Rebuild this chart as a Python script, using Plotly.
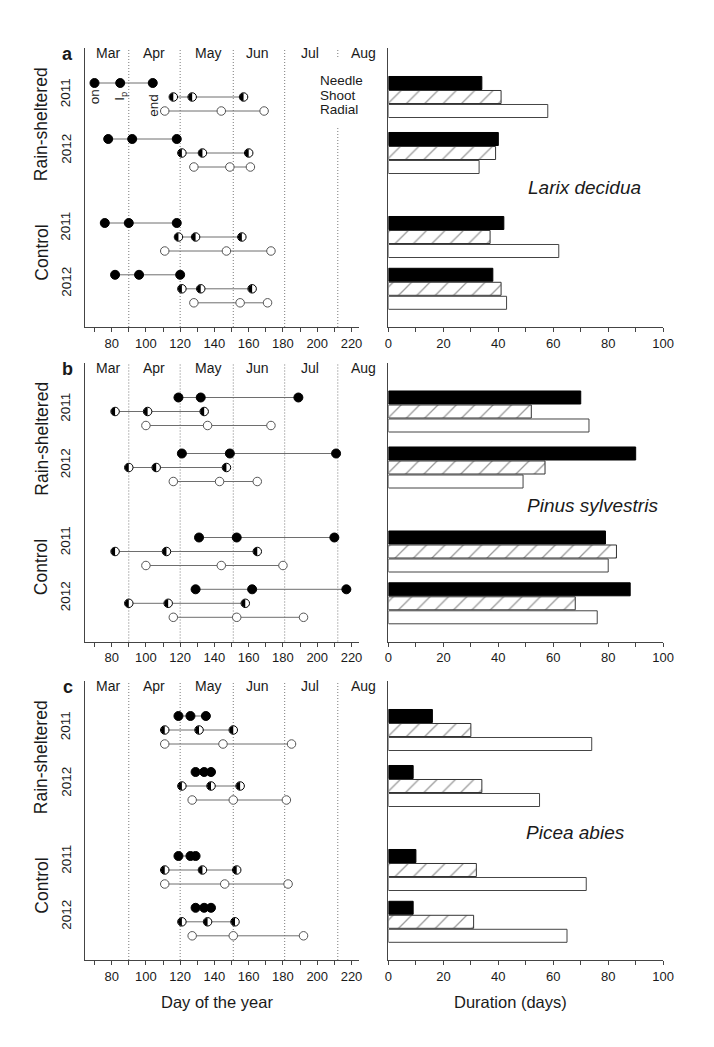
import math
import plotly.graph_objects as go

W, H = 714, 1047

# ---------------- data ----------------
treatments = ["Rain-sheltered", "Control"]
years = ["2011", "2012", "2011", "2012"]
months = ["Mar", "Apr", "May", "Jun", "Jul", "Aug"]
month_ends = [90, 120, 151, 181, 212]
species = ["Larix decidua", "Pinus sylvestris", "Picea abies"]
panel_letters = ["a", "b", "c"]
tissues = ["Needle", "Shoot", "Radial"]
day_ticks = [80, 100, 120, 140, 160, 180, 200, 220]
dur_ticks = [0, 20, 40, 60, 80, 100]

# onset, inflection point (Ip), end -- groups: RS2011, RS2012, C2011, C2012
larix_needle = [[70, 85, 104], [78, 92, 118], [76, 90, 118], [82, 96, 120]]
larix_shoot = [[116, 127, 157], [121, 133, 160], [119, 129, 156], [121, 132, 162]]
larix_radial = [[111, 144, 169], [128, 149, 161], [111, 147, 173], [128, 155, 171]]
larix_dur_needle = [34, 40, 42, 38]
larix_dur_shoot = [41, 39, 37, 41]
larix_dur_radial = [58, 33, 62, 43]

pinus_needle = [[119, 132, 189], [121, 149, 211], [131, 153, 210], [129, 162, 217]]
pinus_shoot = [[82, 101, 134], [90, 106, 147], [82, 112, 165], [90, 113, 158]]
pinus_radial = [[100, 136, 173], [116, 143, 165], [100, 144, 180], [116, 153, 192]]
pinus_dur_needle = [70, 90, 79, 88]
pinus_dur_shoot = [52, 57, 83, 68]
pinus_dur_radial = [73, 49, 80, 76]

picea_needle = [[119, 126, 135], [129, 134, 138], [119, 126, 129], [129, 134, 138]]
picea_shoot = [[111, 131, 151], [121, 138, 155], [111, 133, 153], [121, 136, 152]]
picea_radial = [[111, 145, 185], [127, 151, 182], [111, 146, 183], [127, 151, 192]]
picea_dur_needle = [16, 9, 10, 9]
picea_dur_shoot = [30, 34, 32, 31]
picea_dur_radial = [74, 55, 72, 65]

phen = [
    (larix_needle, larix_shoot, larix_radial),
    (pinus_needle, pinus_shoot, pinus_radial),
    (picea_needle, picea_shoot, picea_radial),
]
durs = [
    (larix_dur_needle, larix_dur_shoot, larix_dur_radial),
    (pinus_dur_needle, pinus_dur_shoot, pinus_dur_radial),
    (picea_dur_needle, picea_dur_shoot, picea_dur_radial),
]

# ---------------- layout constants ----------------
FONT = "Liberation Sans, Arial, sans-serif"
TXT = "#1a1a1a"
AX = "#444444"
panel_tops = [48, 362.5, 681]
panel_h = 279
UNIT = 14.0  # px per y unit
group_base = [2.5, 6.5, 12.5, 16.2]
L_X0, L_X1 = 83, 363
R_X0, R_X1 = 392.7, 673.3
DAY_RANGE = [64.6, 224.6]
PX_PER_DAY = (L_X1 - L_X0) / (DAY_RANGE[1] - DAY_RANGE[0])
month_label_days = [78, 105, 136, 165, 196, 227]


def px(x):
    return x / W


def py(y):
    return 1 - y / H


def day_to_paper(d):
    return px(L_X0 + (d - DAY_RANGE[0]) * PX_PER_DAY)


def ann(text, x, y, size, xref="paper", xanchor="center", angle=0, **kw):
    d = dict(text=text, x=x, y=py(y), xref=xref, yref="paper", showarrow=False,
             xanchor=xanchor, yanchor="middle", textangle=angle,
             font=dict(family=FONT, size=size, color=TXT))
    d.update(kw)
    return d


fig = go.Figure()
annotations = []
shapes = []
layout_axes = {}

for p in range(3):
    top = panel_tops[p]
    bot = top + panel_h
    lx = 2 * p + 1
    rx = 2 * p + 2
    xl = "x" if lx == 1 else f"x{lx}"
    yl = "y" if lx == 1 else f"y{lx}"
    xr, yr = f"x{rx}", f"y{rx}"
    ydom = [py(bot), py(top)]
    yrange = [panel_h / UNIT, 0]

    common_x = dict(showline=True, linecolor=AX, linewidth=1.3, ticks="outside",
                    ticklen=4, tickwidth=1, tickcolor=AX, showgrid=False, zeroline=False,
                    tickfont=dict(family=FONT, size=13, color=TXT))
    layout_axes[f"xaxis{'' if lx == 1 else lx}"] = dict(
        common_x, domain=[px(L_X0), px(L_X1)], range=DAY_RANGE, anchor=yl,
        tickvals=day_ticks, minor=dict(dtick=10, tick0=0, ticks="outside", ticklen=4, tickcolor=AX))
    layout_axes[f"yaxis{'' if lx == 1 else lx}"] = dict(
        domain=ydom, range=yrange, anchor=xl, showline=True, linecolor=AX, linewidth=1.3,
        showticklabels=False, ticks="", showgrid=False, zeroline=False)
    layout_axes[f"xaxis{rx}"] = dict(
        common_x, domain=[px(R_X0), px(R_X1)], range=[0, 100], anchor=yr,
        tickvals=dur_ticks, minor=dict(dtick=10, tick0=0, ticks="outside", ticklen=4, tickcolor=AX))
    layout_axes[f"yaxis{rx}"] = dict(
        domain=ydom, range=yrange, anchor=xr, showline=True, linecolor=AX, linewidth=1.3,
        showticklabels=False, ticks="", showgrid=False, zeroline=False)

    # month boundaries (dotted)
    for d in month_ends:
        shapes.append(dict(type="line", xref=xl, yref=f"{yl} domain", x0=d, x1=d, y0=0, y1=1,
                           line=dict(color="#7a7a7a", width=1, dash="1px,2px"), layer="below"))

    # phenology lines + markers
    for t in range(3):
        xs, ys = [], []
        for g in range(4):
            row = group_base[g] + t
            xs += phen[p][t][g] + [None]
            ys += [row] * 3 + [None]
        if t == 0:
            mk = dict(size=9, color="black", line=dict(color="black", width=1))
        elif t == 1:
            mk = dict(size=8.5, color="white", line=dict(color="black", width=1))
        else:
            mk = dict(size=8.5, color="white", line=dict(color="#555555", width=1))
        fig.add_trace(go.Scatter(x=xs, y=ys, xaxis=xl, yaxis=yl, mode="lines+markers",
                                 line=dict(color="#6e6e6e", width=1), marker=mk,
                                 showlegend=False, hoverinfo="skip"))
        if t == 1:
            # left half filled for shoot markers
            hx, hy = [], []
            r = 4.1
            for g in range(4):
                row = group_base[g] + t
                for d in phen[p][t][g]:
                    for k in range(17):
                        a = math.pi / 2 + math.pi * k / 16
                        hx.append(d + r * math.cos(a) / PX_PER_DAY)
                        hy.append(row - r * math.sin(a) / UNIT)
                    hx.append(None)
                    hy.append(None)
            fig.add_trace(go.Scatter(x=hx, y=hy, xaxis=xl, yaxis=yl, mode="lines",
                                     fill="toself", fillcolor="black", line=dict(width=0, color="black"),
                                     showlegend=False, hoverinfo="skip"))

    # duration bars
    bar_styles = [
        dict(color="black", line=dict(color="black", width=1)),
        dict(color="white", line=dict(color="#333333", width=1),
             pattern=dict(shape="/", fgcolor="#333333", bgcolor="white", size=13, solidity=0.1)),
        dict(color="white", line=dict(color="#444444", width=1)),
    ]
    for t in range(3):
        rows = [group_base[g] + t for g in range(4)]
        fig.add_trace(go.Bar(x=durs[p][t], y=rows, orientation="h", width=0.93, base=0,
                             xaxis=xr, yaxis=yr, marker=bar_styles[t],
                             showlegend=False, hoverinfo="skip"))

    # month labels
    for m, dm in zip(months, month_label_days):
        annotations.append(ann(m, day_to_paper(dm), top + 5, 14))
    # panel letter
    annotations.append(ann(f"<b>{panel_letters[p]}</b>", px(65), top + 6, 18))
    # treatment labels
    for tr, off in zip(treatments, [76, 204.5]):
        annotations.append(ann(tr, px(38), top + off, 17.5, angle=-90))
    for yrlab, off in zip(years, [44.5, 101, 178, 234]):
        annotations.append(ann(yrlab, px(63), top + off, 13.5, angle=-90))
    # species
    sp_pos = [(71.4, 140), (74.4, 142.5), (68, 151)]
    annotations.append(ann(f"<i>{species[p]}</i>", sp_pos[p][0], top + sp_pos[p][1], 19, xref=xr))

# white backing behind legend text (hides dotted line there)
shapes.append(dict(type="rect", xref="paper", yref="paper", x0=px(318), x1=px(372),
                   y0=py(127), y1=py(58), fillcolor="white", line=dict(width=0), layer="below"))
for name, yy in zip(tissues, [80, 95, 109.5]):
    annotations.append(ann(name, px(321), yy, 13.5, xanchor="left"))

# on / Ip / end labels under RS 2011 needle points (panel a)
for lab, d, off in zip(["on", "I<sub>p</sub>", "end"], larix_needle[0], [48.7, 48.5, 57]):
    annotations.append(ann(lab, d, 48 + off, 13.5, xref="x", angle=-90))

# axis titles
annotations.append(ann("Day of the year", px(217.5), 1002, 16.5))
annotations.append(ann("Duration (days)", px(517), 1002, 16.5))

fig.update_layout(width=W, height=H, margin=dict(l=0, r=0, t=0, b=0),
                  paper_bgcolor="white", plot_bgcolor="white", barmode="overlay",
                  annotations=annotations, shapes=shapes, showlegend=False,
                  font=dict(family=FONT, color=TXT), **layout_axes)

fig.write_html("out.html", config={"displayModeBar": False},
               post_script="document.body.style.margin='0';document.body.style.overflow='hidden';")
